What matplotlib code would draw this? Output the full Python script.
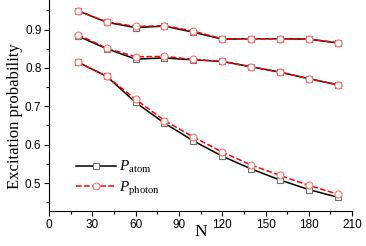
import numpy as np
import matplotlib
matplotlib.use("Agg")
import matplotlib.pyplot as plt
from matplotlib.ticker import MultipleLocator

# 数据
N = [20, 40, 60, 80, 100, 120, 140, 160, 180, 200]

atom_top = [0.949, 0.919, 0.905, 0.909, 0.893, 0.875, 0.876, 0.876, 0.875, 0.865]
photon_top = [0.949, 0.920, 0.908, 0.910, 0.896, 0.876, 0.876, 0.876, 0.875, 0.866]

atom_mid = [0.883, 0.850, 0.823, 0.826, 0.821, 0.817, 0.803, 0.789, 0.772, 0.756]
photon_mid = [0.887, 0.851, 0.829, 0.830, 0.822, 0.817, 0.803, 0.789, 0.772, 0.756]

atom_low = [0.815, 0.778, 0.710, 0.656, 0.610, 0.570, 0.537, 0.508, 0.483, 0.463]
photon_low = [0.815, 0.778, 0.718, 0.663, 0.620, 0.581, 0.547, 0.520, 0.494, 0.471]

x_ticks = [0, 30, 60, 90, 120, 150, 180, 210]
y_ticks = [0.5, 0.6, 0.7, 0.8, 0.9]

plt.rcParams['font.family'] = ['Liberation Serif', 'DejaVu Serif']
plt.rcParams['mathtext.fontset'] = 'custom'
plt.rcParams['mathtext.rm'] = 'Liberation Serif'
plt.rcParams['mathtext.it'] = 'Liberation Serif:italic'

fig = plt.figure(figsize=(3.66, 2.46), dpi=100)
ax = fig.add_axes([0.134, 0.142, 0.828, 0.858])

atom_style = dict(color='black', linestyle='-', linewidth=1.1, marker='s',
                  markersize=4.5, markerfacecolor='white', markeredgecolor='#707070',
                  markeredgewidth=0.8)
photon_style = dict(color='red', linestyle='--', linewidth=1.1, marker='o',
                    markersize=5, markerfacecolor='white', markeredgecolor='#ff7070',
                    markeredgewidth=0.8)

# 三组曲线, 只给第一组加图例
for i, (a, p) in enumerate([(atom_top, photon_top), (atom_mid, photon_mid),
                            (atom_low, photon_low)]):
    ax.plot(N, a, label=r'$P_{\rm atom}$' if i == 0 else None, **atom_style)
    ax.plot(N, p, label=r'$P_{\rm photon}$' if i == 0 else None, **photon_style)

ax.set_xlim(0, 210)
ax.set_ylim(0.427, 0.977)
ax.set_xticks(x_ticks)
ax.set_yticks(y_ticks)
ax.set_yticklabels([f"{v:.1f}" for v in y_ticks])
ax.xaxis.set_minor_locator(MultipleLocator(15))
ax.yaxis.set_minor_locator(MultipleLocator(0.05))
ax.tick_params(which='both', direction='out', labelsize=8.5, width=0.8, pad=2)
ax.tick_params(which='major', length=3.5)
ax.tick_params(which='minor', length=2)
# 刻度数字用无衬线字体
for lbl in ax.get_xticklabels() + ax.get_yticklabels():
    lbl.set_family(['Liberation Sans', 'DejaVu Sans'])

ax.spines['top'].set_visible(False)
ax.spines['right'].set_visible(False)

ax.set_xlabel("N", fontsize=12.5, labelpad=-5)
ax.set_ylabel("Excitation probability", fontsize=12)
ax.yaxis.set_label_coords(-0.085, 0.45)

ax.legend(loc='lower left', bbox_to_anchor=(0.06, 0.02), frameon=False,
          fontsize=11, handlelength=2.6, labelspacing=0.3, borderaxespad=0.2,
          handletextpad=0.2)

plt.savefig("out.png", dpi=100)
plt.close()
